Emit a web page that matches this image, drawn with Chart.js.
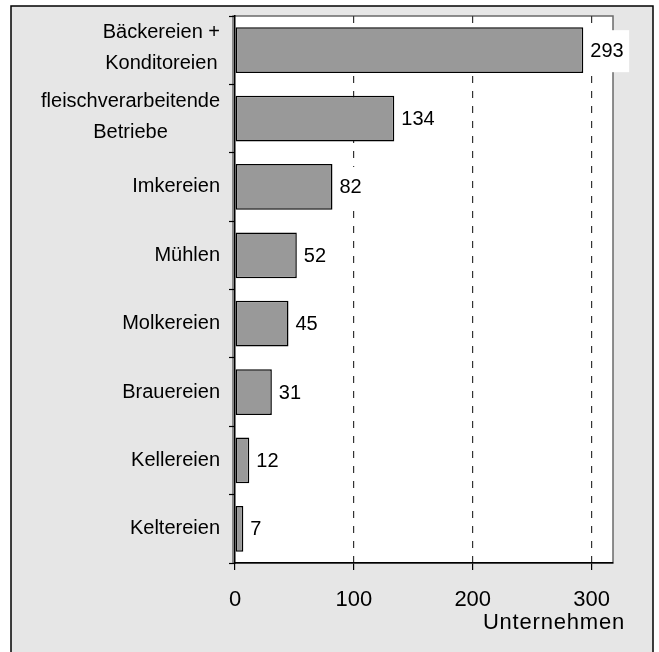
<!DOCTYPE html>
<html>
<head>
<meta charset="utf-8">
<script src="https://cdn.jsdelivr.net/npm/chart.js@4/dist/chart.umd.min.js"></script>
<style>
    html, body { margin: 0; padding: 0; background: #fff; }
    #wrap { width: 659px; height: 652px; }
</style>
</head>
<body>
<div id="wrap"><canvas id="chart" width="659" height="652"></canvas></div>
<script>
// Betriebe nach Branche (Anzahl Unternehmen)
const categories = [
    ['Bäckereien +', 'Konditoreien'],
    ['fleischverarbeitende', 'Betriebe'],
    'Imkereien',
    'Mühlen',
    'Molkereien',
    'Brauereien',
    'Kellereien',
    'Keltereien'
];
const unternehmen = [293, 134, 82, 52, 45, 31, 12, 7];
const xTicks = [0, 100, 200, 300];
const xTitle = 'Unternehmen';

const FONT = '"Liberation Sans", Arial, sans-serif';

// background, frame, value boxes and the category labels
const decorPlugin = {
    id: 'decor',
    beforeDraw(chart) {
        const ctx = chart.ctx;
        const a = chart.chartArea;
        ctx.save();
        ctx.fillStyle = '#fff';
        ctx.fillRect(0, 0, chart.width, chart.height);
        ctx.fillStyle = '#e6e6e6';
        ctx.fillRect(11, 6, 642, chart.height - 6);
        ctx.strokeStyle = '#000';
        ctx.lineWidth = 1.5;
        ctx.beginPath();
        ctx.moveTo(11, chart.height);
        ctx.lineTo(11, 6);
        ctx.lineTo(653, 6);
        ctx.lineTo(653, chart.height);
        ctx.stroke();
        // plot area
        ctx.fillStyle = '#fff';
        ctx.fillRect(a.left, a.top, a.right - a.left, a.bottom - a.top);
        ctx.strokeStyle = '#6a6a6a';
        ctx.lineWidth = 1.5;
        ctx.strokeRect(a.left - 2, a.top, a.right - a.left + 2, a.bottom - a.top);
        ctx.restore();
    },
    afterDatasetsDraw(chart) {
        const ctx = chart.ctx;
        const meta = chart.getDatasetMeta(0);
        ctx.save();
        ctx.font = '20px ' + FONT;
        ctx.textBaseline = 'middle';
        ctx.textAlign = 'left';
        meta.data.forEach((bar, i) => {
            const txt = String(unternehmen[i]);
            const w = ctx.measureText(txt).width;
            ctx.fillStyle = '#fff';
            ctx.fillRect(bar.x + 1.5, bar.y - 20, w + 11, 42);
            ctx.fillStyle = '#000';
            ctx.fillText(txt, bar.x + 7, bar.y + 1);
        });
        ctx.restore();
    },
    afterDraw(chart) {
        const ctx = chart.ctx;
        const y = chart.scales.y;
        const x = chart.scales.x;
        ctx.save();
        ctx.font = '20px ' + FONT;
        ctx.fillStyle = '#000';
        ctx.textBaseline = 'middle';
        ctx.textAlign = 'center';
        const right = 220;
        const lineGap = 31;
        categories.forEach((cat, i) => {
            const lines = Array.isArray(cat) ? cat : [cat];
            const maxW = Math.max(...lines.map(l => ctx.measureText(l).width));
            const cx = right - maxW / 2;
            const cy = y.getPixelForValue(i) - (lines.length > 1 ? 2 : 0);
            lines.forEach((l, j) => {
                ctx.fillText(l, cx, cy + (j - (lines.length - 1) / 2) * lineGap);
            });
        });
        // axis title
        ctx.font = '22px ' + FONT;
        ctx.letterSpacing = '0.8px';
        ctx.textAlign = 'right';
        ctx.fillText(xTitle, x.right + 12, 623);
        ctx.restore();
    }
};

new Chart(document.getElementById('chart'), {
    type: 'bar',
    data: {
        labels: categories,
        datasets: [{
            label: xTitle,
            data: unternehmen,
            backgroundColor: '#999999',
            borderColor: '#000',
            borderWidth: 1.5,
            borderSkipped: false,
            barPercentage: 0.67,
            categoryPercentage: 1
        }]
    },
    options: {
        indexAxis: 'y',
        responsive: false,
        animation: false,
        devicePixelRatio: 1,
        layout: {
            padding: { top: 16, right: 46, bottom: 0, left: 0 }
        },
        plugins: {
            legend: { display: false },
            tooltip: { enabled: false }
        },
        scales: {
            x: {
                type: 'linear',
                min: 0,
                max: 318,
                afterBuildTicks: (scale) => {
                    scale.ticks = xTicks.map(v => ({ value: v }));
                },
                afterFit: (scale) => { scale.height = 89; },
                grid: {
                    color: (c) => (c.tick && c.tick.value === 0) ? 'rgba(0,0,0,0)' : '#333',
                    lineWidth: 1.2,
                    tickLength: 7,
                    tickColor: '#000',
                    tickWidth: 1.2
                },
                border: { color: '#000', width: 1.5, dash: [7, 8] },
                ticks: {
                    color: '#000',
                    padding: 17,
                    maxRotation: 0,
                    font: { family: FONT, size: 22 }
                }
            },
            y: {
                type: 'category',
                afterFit: (scale) => { scale.width = 235; },
                grid: {
                    offset: true,
                    drawOnChartArea: false,
                    tickLength: 6,
                    tickColor: '#000',
                    tickWidth: 1.2
                },
                border: { color: '#000', width: 1.5 },
                ticks: { display: false }
            }
        }
    },
    plugins: [decorPlugin]
});
</script>
</body>
</html>
